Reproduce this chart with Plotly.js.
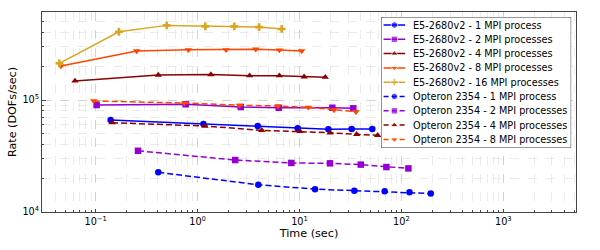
<!DOCTYPE html>
<html>
<head>
<meta charset="utf-8">
<script src="https://cdn.plot.ly/plotly-3.0.1.min.js"></script>
<style>html,body{margin:0;padding:0;background:#fff;}#chart{width:600px;height:250px;}</style>
</head>
<body>
<div id="chart"></div>
<script>
// E5-2680v2
const e5_1_t = [0.140, 1.14, 3.89, 9.6, 19.2, 32.5, 51.8];
const e5_1_r = [66300, 61000, 58600, 55900, 54700, 55100, 55100];
const e5_2_t = [0.102, 0.763, 2.65, 6.25, 21.0, 33.7];
const e5_2_r = [90200, 91600, 86600, 85300, 85300, 84300];
const e5_4_t = [0.0626, 0.411, 1.35, 3.24, 6.34, 11.1, 17.9];
const e5_4_r = [148000, 167000, 169000, 165000, 165000, 161000, 160000];
const e5_8_t = [0.0456, 0.252, 0.811, 1.90, 3.72, 6.34, 10.5];
const e5_8_r = [201000, 274000, 281000, 281000, 284000, 279000, 274000];
const e5_16_t = [0.044, 0.169, 0.497, 1.19, 2.29, 4.01, 6.68];
const e5_16_r = [212800, 407000, 464000, 455000, 455000, 448000, 431000];
// Opteron 2354
const op_1_t = [0.411, 3.94, 14.2, 34.5, 68.5, 120, 194];
const op_1_r = [22600, 17500, 16000, 15500, 15300, 15000, 14600];
const op_2_t = [0.260, 2.34, 8.31, 19.9, 39.9, 71.2, 117];
const op_2_r = [35200, 29100, 27400, 27200, 26500, 25200, 24500];
const op_4_t = [0.1445, 1.18, 4.26, 10.1, 19.9, 36.4, 58.5];
const op_4_r = [62700, 58600, 53600, 52500, 51000, 49400, 48400];
const op_8_t = [0.0955, 0.741, 2.57, 6.15, 12.2, 21.8, 35.8];
const op_8_r = [98000, 94000, 89700, 88400, 86000, 81500, 78700];

const seriesNames = [
  'E5-2680v2 - 1 MPI process', 'E5-2680v2 - 2 MPI processes', 'E5-2680v2 - 4 MPI processes',
  'E5-2680v2 - 8 MPI processes', 'E5-2680v2 - 16 MPI processes',
  'Opteron 2354 - 1 MPI process', 'Opteron 2354 - 2 MPI processes',
  'Opteron 2354 - 4 MPI processes', 'Opteron 2354 - 8 MPI processes'
];
const xs = [e5_1_t, e5_2_t, e5_4_t, e5_8_t, e5_16_t, op_1_t, op_2_t, op_4_t, op_8_t];
const ys = [e5_1_r, e5_2_r, e5_4_r, e5_8_r, e5_16_r, op_1_r, op_2_r, op_4_r, op_8_r];
const colors = ['#0000ff', '#9400d3', '#8b0000', '#ff4500', '#daa520', '#0000ff', '#9400d3', '#8b0000', '#ff4500'];
const symbols = ['circle', 'square', 'triangle-up', 'triangle-down', 'cross', 'circle', 'square', 'triangle-up', 'triangle-down'];
const dashes = ['solid', 'solid', 'solid', 'solid', 'solid', '6px,3px', '6px,3px', '6px,3px', '6px,3px'];

const xTickVals = [0.1, 1, 10, 100, 1000];
const xTickText = ['10<sup>−1</sup>', '10<sup>0</sup>', '10<sup>1</sup>', '10<sup>2</sup>', '10<sup>3</sup>'];
const yTickVals = [1e4, 1e5];
const yTickText = ['10<sup>4</sup>', '10<sup>5</sup>'];

const traces = seriesNames.map((n, i) => ({
  type: 'scatter', mode: 'lines+markers', name: n, showlegend: false,
  x: xs[i], y: ys[i],
  line: {color: colors[i], width: 1.5, dash: dashes[i]},
  marker: {color: colors[i], symbol: symbols[i], size: 6.5}
}));

// Custom compact legend drawn on an overlay axis measured in pixels inside the box
const LW = 190, LH = 131, ROW0 = 8, ROWH = 14.3;
traces.push({
  type: 'scatter', mode: 'lines', xaxis: 'x2', yaxis: 'y2', showlegend: false, hoverinfo: 'skip',
  x: [0, LW, LW, 0, 0], y: [0, 0, LH, LH, 0], fill: 'toself',
  fillcolor: 'rgba(255,255,255,0.85)', line: {color: '#333', width: 1}
});
const annotations = [];
seriesNames.forEach((n, i) => {
  const ry = ROW0 + i * ROWH;
  traces.push({
    type: 'scatter', mode: 'lines+markers', xaxis: 'x2', yaxis: 'y2', showlegend: false, hoverinfo: 'skip',
    x: [2.5, 13.3, 24], y: [ry, ry, ry],
    line: {color: colors[i], width: 1.5, dash: dashes[i] === 'solid' ? 'solid' : '5px,3px'},
    marker: {color: colors[i], symbol: symbols[i], size: [0, 6.5, 0]}
  });
  annotations.push({xref: 'x2', yref: 'y2', x: 30, y: ry, text: n, showarrow: false,
    xanchor: 'left', yanchor: 'middle', font: {size: 9.7, color: '#000'}});
});

const layout = {
  width: 600, height: 250,
  margin: {l: 42, r: 24, t: 12, b: 38},
  paper_bgcolor: '#fff', plot_bgcolor: '#fff',
  font: {family: 'DejaVu Sans', size: 9.7, color: '#000'},
  showlegend: false,
  annotations: annotations,
  xaxis: {type: 'log', range: [-1.527, 3.713],
    tickmode: 'array', tickvals: xTickVals, ticktext: xTickText,
    showline: true, mirror: true, linecolor: '#444', linewidth: 1,
    showgrid: true, gridcolor: '#cccccc', griddash: 'dash', gridwidth: 0.8,
    ticks: 'inside', ticklen: 3.5, tickcolor: '#444',
    minor: {dtick: 'D1', showgrid: true, gridcolor: '#dddddd', griddash: 'dash', gridwidth: 0.6,
      ticks: 'inside', ticklen: 2, tickcolor: '#444'},
    zeroline: false, tickfont: {size: 9.7},
    title: {text: 'Time (sec)', font: {size: 11.2}, standoff: 1}},
  yaxis: {type: 'log', range: [4, 5.786],
    tickmode: 'array', tickvals: yTickVals, ticktext: yTickText,
    showline: true, mirror: true, linecolor: '#444', linewidth: 1,
    showgrid: true, gridcolor: '#cccccc', griddash: 'dash', gridwidth: 0.8,
    ticks: 'inside', ticklen: 3.5, tickcolor: '#444',
    minor: {dtick: 'D1', showgrid: true, gridcolor: '#dddddd', griddash: 'dash', gridwidth: 0.6,
      ticks: 'inside', ticklen: 2, tickcolor: '#444'},
    zeroline: false, tickfont: {size: 9.7},
    title: {text: 'Rate (DOFs/sec)', font: {size: 11.2}, standoff: 3}},
  xaxis2: {domain: [0.635, 0.991], range: [0, LW], visible: false, anchor: 'y2', fixedrange: true},
  yaxis2: {domain: [0.32, 0.975], range: [LH, 0], visible: false, anchor: 'x2', fixedrange: true}
};

Plotly.newPlot('chart', traces, layout, {displayModeBar: false, staticPlot: true});
</script>
</body>
</html>
